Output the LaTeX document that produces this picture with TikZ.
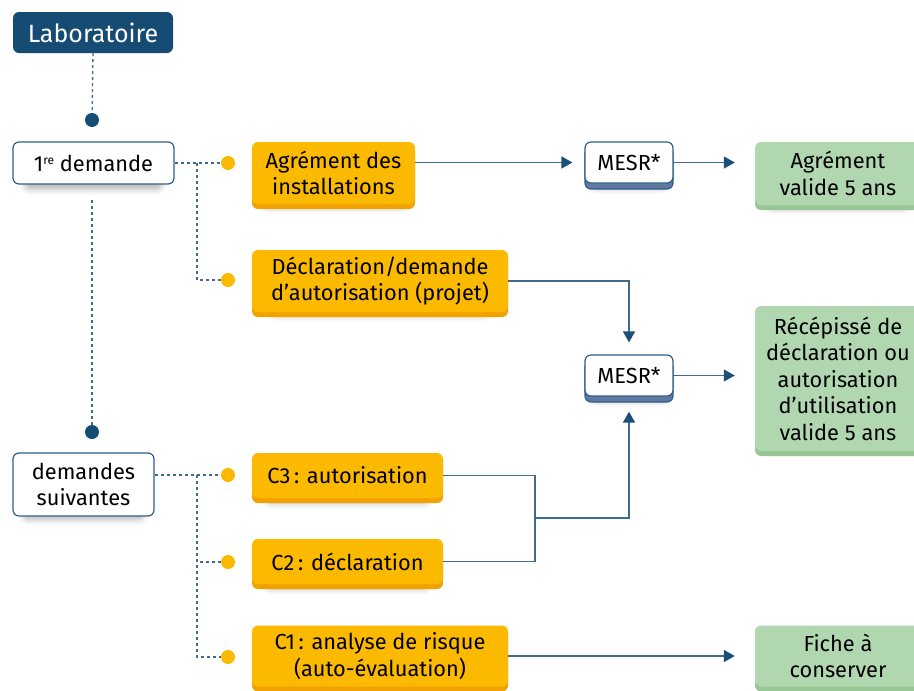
\documentclass[tikz,border=0pt]{standalone}
\usepackage{fontspec}
\setmainfont{Fira Sans}
\usetikzlibrary{arrows.meta,shadows,shadows.blur}
\definecolor{labC}{HTML}{164B74}
\definecolor{lineC}{HTML}{3F6A92}
\definecolor{tipC}{HTML}{1B4F7A}
\definecolor{orangeC}{HTML}{FBBA00}
\definecolor{orangeD}{HTML}{F2A200}
\definecolor{greenC}{HTML}{B1D7B0}
\definecolor{greenD}{HTML}{98C796}
\definecolor{stripeC}{HTML}{5F79A0}
\definecolor{borderC}{HTML}{2E5F8A}
\tikzset{
  base/.style={rounded corners=6pt, align=center, inner sep=0pt, font=\fontsize{21.8}{26.5}\selectfont},
  soft/.style={blur shadow={shadow xshift=0pt, shadow yshift=-10pt, shadow scale=0.85, shadow blur radius=7pt, shadow opacity=28}},
  labbox/.style={base, fill=labC, text=white, font=\fontsize{25}{28}\selectfont},
  whitebox/.style={base, soft, fill=white, draw=borderC, line width=1.2pt},
  orangebox/.style={base, soft, fill=orangeC, copy shadow={shadow xshift=0pt, shadow yshift=-5pt, fill=orangeD, draw=none}},
  greenbox/.style={base, soft, fill=greenC, copy shadow={shadow xshift=0pt, shadow yshift=-5pt, fill=greenD, draw=none}},
  mesrbox/.style={base, soft, fill=white, draw=borderC, line width=1.2pt, copy shadow={shadow xshift=0pt, shadow yshift=-6pt, fill=stripeC, draw=borderC, line width=1.2pt}},
  bdot/.style={circle, fill=labC, inner sep=0pt, minimum size=14pt},
  ydot/.style={circle, fill=orangeC, inner sep=0pt, minimum size=14pt},
  dashline/.style={draw=lineC, line width=1.3pt, dash pattern=on 3pt off 3pt},
  conn/.style={draw=lineC, line width=1.5pt},
  arr/.style={conn, -{Triangle[length=11pt,width=12pt,color=tipC]}},
}
\newcommand{\supre}{\raisebox{0.55ex}{\fontsize{12}{12}\selectfont re}}
\begin{document}
\begin{tikzpicture}[x=1pt,y=-1pt]
\useasboundingbox (0,0) rectangle (914,691);
% nodes
\node[labbox, minimum width=160pt, minimum height=41pt] (lab) at (93,32.5) {Laboratoire};
\node[whitebox, minimum width=161pt, minimum height=42pt] (d1) at (93.5,163) {1\supre{} demande};
\node[whitebox, minimum width=141pt, minimum height=63pt] (ds) at (83.5,484.5) {demandes\\suivantes};
\node[orangebox, minimum width=163pt, minimum height=62pt] (ag) at (333.5,173) {Agrément des\\installations};
\node[orangebox, minimum width=256pt, minimum height=62pt] (decl) at (380,281) {Déclaration/demande\\d’autorisation (projet)};
\node[orangebox, minimum width=191pt, minimum height=45pt] (c3) at (347.5,475.5) {C3\,: autorisation};
\node[orangebox, minimum width=191pt, minimum height=45pt] (c2) at (347.5,561.5) {C2\,: déclaration};
\node[orangebox, minimum width=256pt, minimum height=61pt] (c1) at (380,656) {C1\,: analyse de risque\\(auto-évaluation)};
\node[mesrbox, minimum width=88pt, minimum height=41pt] (m1) at (629,162.5) {MESR*};
\node[mesrbox, minimum width=88pt, minimum height=41pt] (m2) at (629,375.5) {MESR*};
\node[greenbox, minimum width=166pt, minimum height=63pt] (g1) at (838,173.5) {Agrément\\valide 5 ans};
\node[greenbox, minimum width=166pt, minimum height=145pt] (g2) at (838,378.5) {Récépissé de\\déclaration ou\\autorisation\\d’utilisation\\valide 5 ans};
\node[greenbox, minimum width=166pt, minimum height=61pt] (g3) at (838,656) {Fiche à\\conserver};
% helper coordinates
\coordinate (bd1) at (92,120);
\coordinate (bd2) at (92,432);
\coordinate (gap) at (92,200);
\coordinate (y1) at (228,163);
\coordinate (y2) at (228,280);
\coordinate (y3) at (228,475);
\coordinate (y4) at (228,562);
\coordinate (y5) at (228,657);
\coordinate (br1) at (197,163);
\coordinate (br2) at (197,475);
\coordinate (jx) at (535,518);
% dashed links
\draw[dashline] (lab.south) -- (bd1);
\draw[dashline] (gap) -- (bd2);
\draw[dashline] (d1.east) -- (y1);
\draw[dashline] (br1) |- (y2);
\draw[dashline] (ds.east |- y3) -- (y3);
\draw[dashline] (br2) |- (y4);
\draw[dashline] (br2) |- (y5);
% dots
\node[bdot] (p1) at (bd1) {};
\node[bdot] (p2) at (bd2) {};
\node[ydot] (q1) at (y1) {};
\node[ydot] (q2) at (y2) {};
\node[ydot] (q3) at (y3) {};
\node[ydot] (q4) at (y4) {};
\node[ydot] (q5) at (y5) {};
% solid connectors
\draw[arr, shorten >=12pt] (ag.east |- m1.west) -- (m1.west);
\draw[arr, shorten >=20pt] (m1.east) -- (g1.west |- m1.east);
\draw[arr, shorten >=12pt] (decl.east) -| (m2.north);
\draw[arr, shorten >=20pt] (m2.east) -- (g2.west |- m2.east);
\draw[conn] (c3.east) -| (jx) |- (c2.east);
\draw[arr, shorten >=15pt] (jx) -| (m2.south);
\draw[arr, shorten >=20pt] (c1.east) -- (g3.west |- c1.east);
\end{tikzpicture}
\end{document}
